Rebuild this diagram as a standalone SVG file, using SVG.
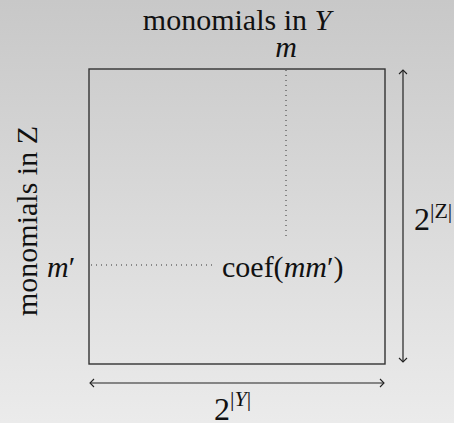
<svg xmlns="http://www.w3.org/2000/svg" width="454" height="423" viewBox="0 0 454 423">
<defs>
<linearGradient id="bg" x1="0" y1="0" x2="0" y2="1">
<stop offset="0" stop-color="#c8c8c8"/>
<stop offset="1" stop-color="#ebebeb"/>
</linearGradient>
<marker id="ah" viewBox="-6 -5 8 10" markerWidth="8" markerHeight="10" refX="0" refY="0" orient="auto-start-reverse" markerUnits="userSpaceOnUse">
<path d="M-4,-4 Q-1,-1 0,0 Q-1,1 -4,4" fill="none" stroke="#222" stroke-width="1.1"/>
</marker>
<style>
text{font-family:"Liberation Serif","DejaVu Serif",serif;font-size:30px;fill:#111}
.it{font-style:italic}
.dot{stroke:#333;stroke-width:1;stroke-dasharray:1 4;fill:none}
.arr{stroke:#222;stroke-width:1.2;fill:none;marker-start:url(#ah);marker-end:url(#ah)}
</style>
</defs>
<rect width="454" height="423" fill="url(#bg)"/>
<g id="matrix">
<rect x="89" y="69" width="296" height="295" fill="none" stroke="#333" stroke-width="1.4"/>
</g>
<g id="connectors">
<line class="dot" x1="286" y1="70" x2="286" y2="238"/>
<line class="dot" x1="91" y1="265" x2="212" y2="265"/>
<line class="arr" x1="403" y1="70" x2="403" y2="362"/>
<line class="arr" x1="90" y1="383" x2="384" y2="383"/>
</g>
<g id="labelY"><text x="237" y="30" text-anchor="middle">monomials in <tspan class="it">Y</tspan></text></g>
<g id="labelZ"><text transform="translate(37,221) rotate(-90)" text-anchor="middle">monomials in Z</text></g>
<g id="m"><text x="286" y="57" text-anchor="middle" class="it">m</text></g>
<g id="mprime"><text x="47" y="277"><tspan class="it">m</tspan>′</text></g>
<g id="coef"><text x="222" y="277">coef(<tspan class="it">mm</tspan>′)</text></g>
<g id="sizeZ"><text x="414" y="230" style="font-size:32px">2<tspan dy="-12" style="font-size:22px">|Z|</tspan></text></g>
<g id="sizeY"><text x="214" y="420" style="font-size:32px">2<tspan dy="-14" style="font-size:22px">|<tspan class="it">Y</tspan>|</tspan></text></g>
</svg>
